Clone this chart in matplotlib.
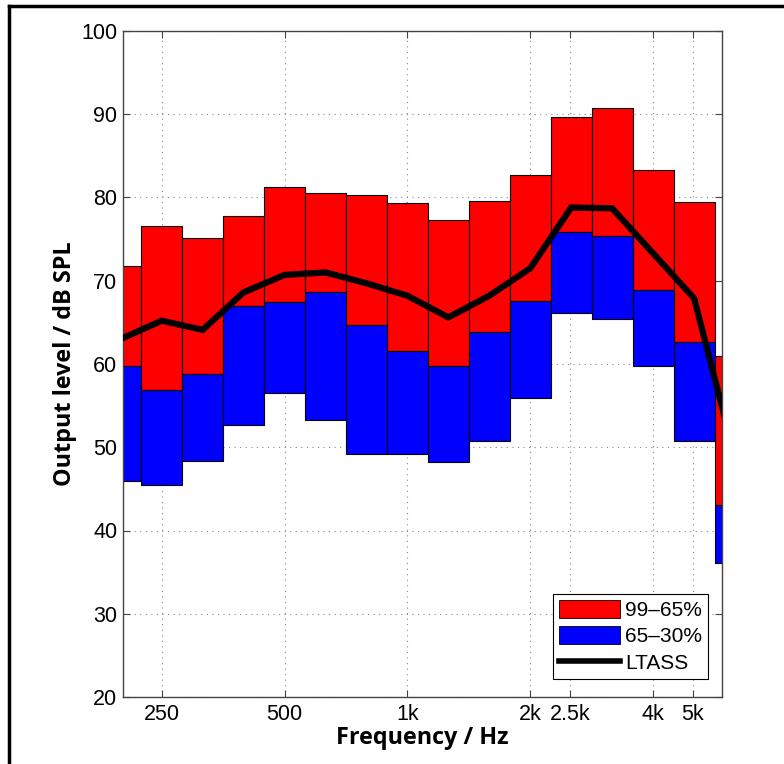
import matplotlib
matplotlib.use("Agg")
import matplotlib.pyplot as plt
import numpy as np
from matplotlib.patches import Patch
from matplotlib.lines import Line2D

# ---- data ----
freqs = [200, 250, 315, 400, 500, 630, 800, 1000, 1250, 1600, 2000, 2500, 3150, 4000, 5000, 6300]
band_index = [-7, -6, -5, -4, -3, -2, -1, 0, 1, 2, 3, 4, 5, 6, 7, 8]  # third-octave steps from 1 kHz
p99 = [71.8, 76.6, 75.1, 77.8, 81.3, 80.6, 80.3, 79.3, 77.3, 79.6, 82.7, 89.7, 90.7, 83.3, 79.5, 61.0]
p65 = [59.8, 56.9, 58.8, 67.0, 67.4, 68.7, 64.7, 61.6, 59.7, 63.8, 67.6, 75.8, 75.4, 68.9, 62.6, 43.1]
p30 = [45.9, 45.5, 48.4, 52.7, 56.5, 53.3, 49.2, 49.2, 48.2, 50.8, 55.9, 66.1, 65.4, 59.7, 50.7, 36.1]
ltass = [63.0, 65.2, 64.1, 68.6, 70.7, 71.0, 69.7, 68.2, 65.6, 68.2, 71.5, 78.8, 78.7, 73.3, 67.9, 48.8]
xtick_vals = [250, 500, 1000, 2000, 2500, 4000, 5000]
xtick_labels = ["250", "500", "1k", "2k", "2.5k", "4k", "5k"]
ytick_vals = [20, 30, 40, 50, 60, 70, 80, 90, 100]
legend_labels = ["99\u201365%", "65\u201330%", "LTASS"]

fig = plt.figure(figsize=(7.84, 7.64), dpi=100)
ax = fig.add_axes([123/784, 1-697/764, (722-123)/784, (697-31)/764])
ax.set_xscale("log")

# exact third-octave centres for geometry
f = 1000.0 * 2.0 ** (np.array(band_index) / 3.0)
lo = f * 2 ** (-1/6)
hi = f * 2 ** (1/6)
w = hi - lo
ax.bar(lo, np.array(p99) - np.array(p65), width=w, bottom=p65, align="edge",
       color="#ff0000", edgecolor="black", linewidth=0.8, zorder=2)
ax.bar(lo, np.array(p65) - np.array(p30), width=w, bottom=p30, align="edge",
       color="#0000ff", edgecolor="black", linewidth=0.8, zorder=2)
ax.plot(f, ltass, color="black", linewidth=4.5, zorder=3, solid_joinstyle="miter")

ax.set_xlim(201, 5900)
ax.set_ylim(20, 100)
ax.set_xticks(xtick_vals)
ax.set_xticklabels(xtick_labels)
ax.xaxis.set_minor_locator(matplotlib.ticker.NullLocator())
ax.set_yticks(ytick_vals)
ax.grid(True, which="major", linestyle=(0, (1, 4)), color="#888888", linewidth=0.8, zorder=0)
ax.set_axisbelow(True)
ax.tick_params(direction="in", top=True, right=True, length=5, width=0.8,
               labelsize=15.5, color="#444444")
ax.tick_params(axis="y", pad=4)
ax.tick_params(axis="x", pad=5)
for lab in ax.get_xticklabels() + ax.get_yticklabels():
    lab.set_fontfamily("Liberation Sans")
for s in ax.spines.values():
    s.set_color("#444444")
    s.set_linewidth(1.0)

ax.set_xlabel("Frequency / Hz", fontsize=16.8, fontweight="bold", family="Open Sans", labelpad=1)
ax.set_ylabel("Output level / dB SPL", fontsize=16.8, fontweight="bold", family="Open Sans", labelpad=3)

handles = [Patch(facecolor="#ff0000", edgecolor="black", linewidth=0.6),
           Patch(facecolor="#0000ff", edgecolor="black", linewidth=0.6),
           Line2D([0], [0], color="black", linewidth=4)]
leg = ax.legend(handles, legend_labels, loc="lower right", bbox_to_anchor=(0.977, 0.027),
                fancybox=False, framealpha=1, edgecolor="black", borderpad=0.3,
                handlelength=2.9, handleheight=0.95, handletextpad=0.25, labelspacing=0.3,
                borderaxespad=0.0,
                prop={"family": "Liberation Sans", "size": 15})
leg.get_frame().set_linewidth(0.8)

# figure border (left and top)
fig.add_artist(Line2D([8.5/784, 8.5/784], [0, 1-6/764], transform=fig.transFigure, color="black", linewidth=2.5))
fig.add_artist(Line2D([8.5/784, 1], [1-6/764, 1-6/764], transform=fig.transFigure, color="black", linewidth=2.5))

fig.savefig("out.png", dpi=100)
